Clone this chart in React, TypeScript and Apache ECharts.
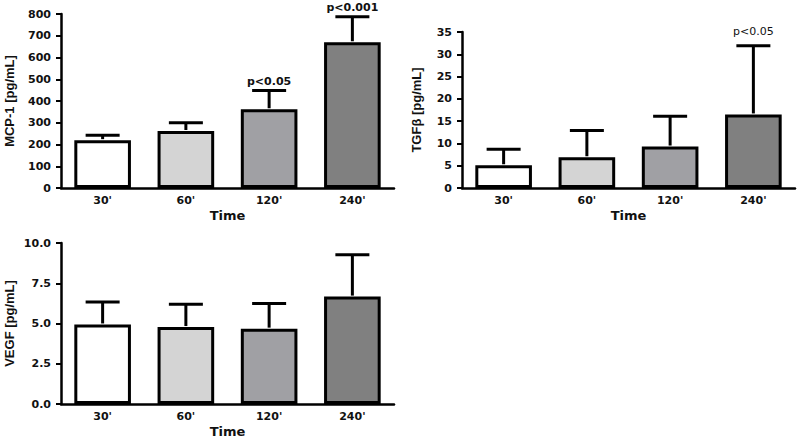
import React, { useEffect, useRef } from "react";
import * as echarts from "echarts";

const categories = ["30'", "60'", "120'", "240'"];
const barColors = ["#ffffff", "#d4d4d4", "#a0a0a4", "#808080"];

const mcpMean = [220, 262, 362, 670];
const mcpUpper = [243, 300, 448, 787];
const mcpNotes = ["", "", "p<0.05", "p<0.001"];

const tgfMean = [5.1, 6.9, 9.3, 16.5];
const tgfUpper = [8.7, 12.9, 16.1, 31.9];
const tgfNotes = ["", "", "", "p<0.05"];

const vegfMean = [4.94, 4.78, 4.68, 6.67];
const vegfUpper = [6.34, 6.2, 6.24, 9.27];
const vegfNotes = ["", "", "", ""];

const xTitle = "Time";

const panels = [
  { name: "MCP-1 [pg/mL]", mean: mcpMean, upper: mcpUpper, notes: mcpNotes, max: 800, interval: 100, decimals: 0,
    grid: { left: 61, top: 14, width: 333, height: 174 }, nameGap: 45, noteGap: 4, noteWeight: "bold" },
  { name: "TGFβ [pg/mL]", mean: tgfMean, upper: tgfUpper, notes: tgfNotes, max: 35, interval: 5, decimals: 0,
    grid: { left: 462, top: 32, width: 333, height: 156 }, nameGap: 39, noteGap: 9, noteWeight: "normal" },
  { name: "VEGF [pg/mL]", mean: vegfMean, upper: vegfUpper, notes: vegfNotes, max: 10, interval: 2.5, decimals: 1,
    grid: { left: 61, top: 243, width: 333, height: 163 }, nameGap: 45, noteGap: 4, noteWeight: "bold" },
];

const FONT = "DejaVu Sans";

export default function App() {
  const ref = useRef<HTMLDivElement>(null);
  useEffect(() => {
    if (!ref.current) return;
    const chart = echarts.init(ref.current, null, { renderer: "svg" });
    const grids: any[] = [];
    const xAxes: any[] = [];
    const yAxes: any[] = [];
    const series: any[] = [];
    panels.forEach((p, i) => {
      grids.push({ ...p.grid, containLabel: false });
      xAxes.push({
        type: "category",
        gridIndex: i,
        data: categories,
        name: xTitle,
        nameLocation: "middle",
        nameGap: 21,
        nameTextStyle: { fontFamily: FONT, fontWeight: "bold", fontSize: 13, color: "#111" },
        axisLine: { lineStyle: { color: "#000", width: 2.5 } },
        axisTick: { alignWithLabel: true, length: 4, lineStyle: { color: "#000", width: 2 } },
        axisLabel: { margin: 7, fontFamily: FONT, fontWeight: "bold", fontSize: 11, color: "#111" },
      });
      yAxes.push({
        type: "value",
        gridIndex: i,
        min: 0,
        max: p.max,
        interval: p.interval,
        name: p.name,
        nameLocation: "middle",
        nameGap: p.nameGap,
        nameRotate: 90,
        nameTextStyle: { fontFamily: "Liberation Sans", fontWeight: "bold", fontSize: 13, color: "#111" },
        splitLine: { show: false },
        axisLine: { show: true, lineStyle: { color: "#000", width: 2.5 } },
        axisTick: { show: true, length: 5, lineStyle: { color: "#000", width: 2 } },
        axisLabel: {
          margin: 10,
          fontFamily: FONT,
          fontWeight: "bold",
          fontSize: 11,
          color: "#111",
          formatter: (v: number) => v.toFixed(p.decimals),
        },
      });
      series.push({
        type: "bar",
        xAxisIndex: i,
        yAxisIndex: i,
        barWidth: "68%",
        data: p.mean.map((v, k) => ({
          value: v,
          itemStyle: { color: barColors[k], borderColor: "#000", borderWidth: 3 },
        })),
        z: 2,
      });
      series.push({
        type: "custom",
        xAxisIndex: i,
        yAxisIndex: i,
        z: 3,
        data: p.mean.map((v, k) => [k, v, p.upper[k]]),
        renderItem: (params: any, api: any) => {
          const x = api.value(0);
          const m = api.value(1);
          const u = api.value(2);
          const p0 = api.coord([x, m]);
          const p1 = api.coord([x, u]);
          const half = 17;
          const children: any[] = [
            { type: "line", shape: { x1: p0[0], y1: p0[1] - 1, x2: p1[0], y2: p1[1] }, style: { stroke: "#000", lineWidth: 3 } },
            { type: "line", shape: { x1: p1[0] - half, y1: p1[1], x2: p1[0] + half, y2: p1[1] }, style: { stroke: "#000", lineWidth: 3 } },
          ];
          const note = p.notes[params.dataIndex];
          if (note) {
            children.push({
              type: "text",
              style: {
                text: note,
                x: p1[0],
                y: p1[1] - p.noteGap,
                align: "center",
                verticalAlign: "bottom",
                font: `${p.noteWeight} 11px "${FONT}"`,
                fill: "#111",
              },
            });
          }
          return { type: "group", children };
        },
      });
    });
    chart.setOption({
      animation: false,
      backgroundColor: "#ffffff",
      grid: grids,
      xAxis: xAxes,
      yAxis: yAxes,
      series,
    });
    return () => chart.dispose();
  }, []);
  return <div ref={ref} style={{ width: 800, height: 439, position: "absolute", left: 0, top: 0 }} />;
}
